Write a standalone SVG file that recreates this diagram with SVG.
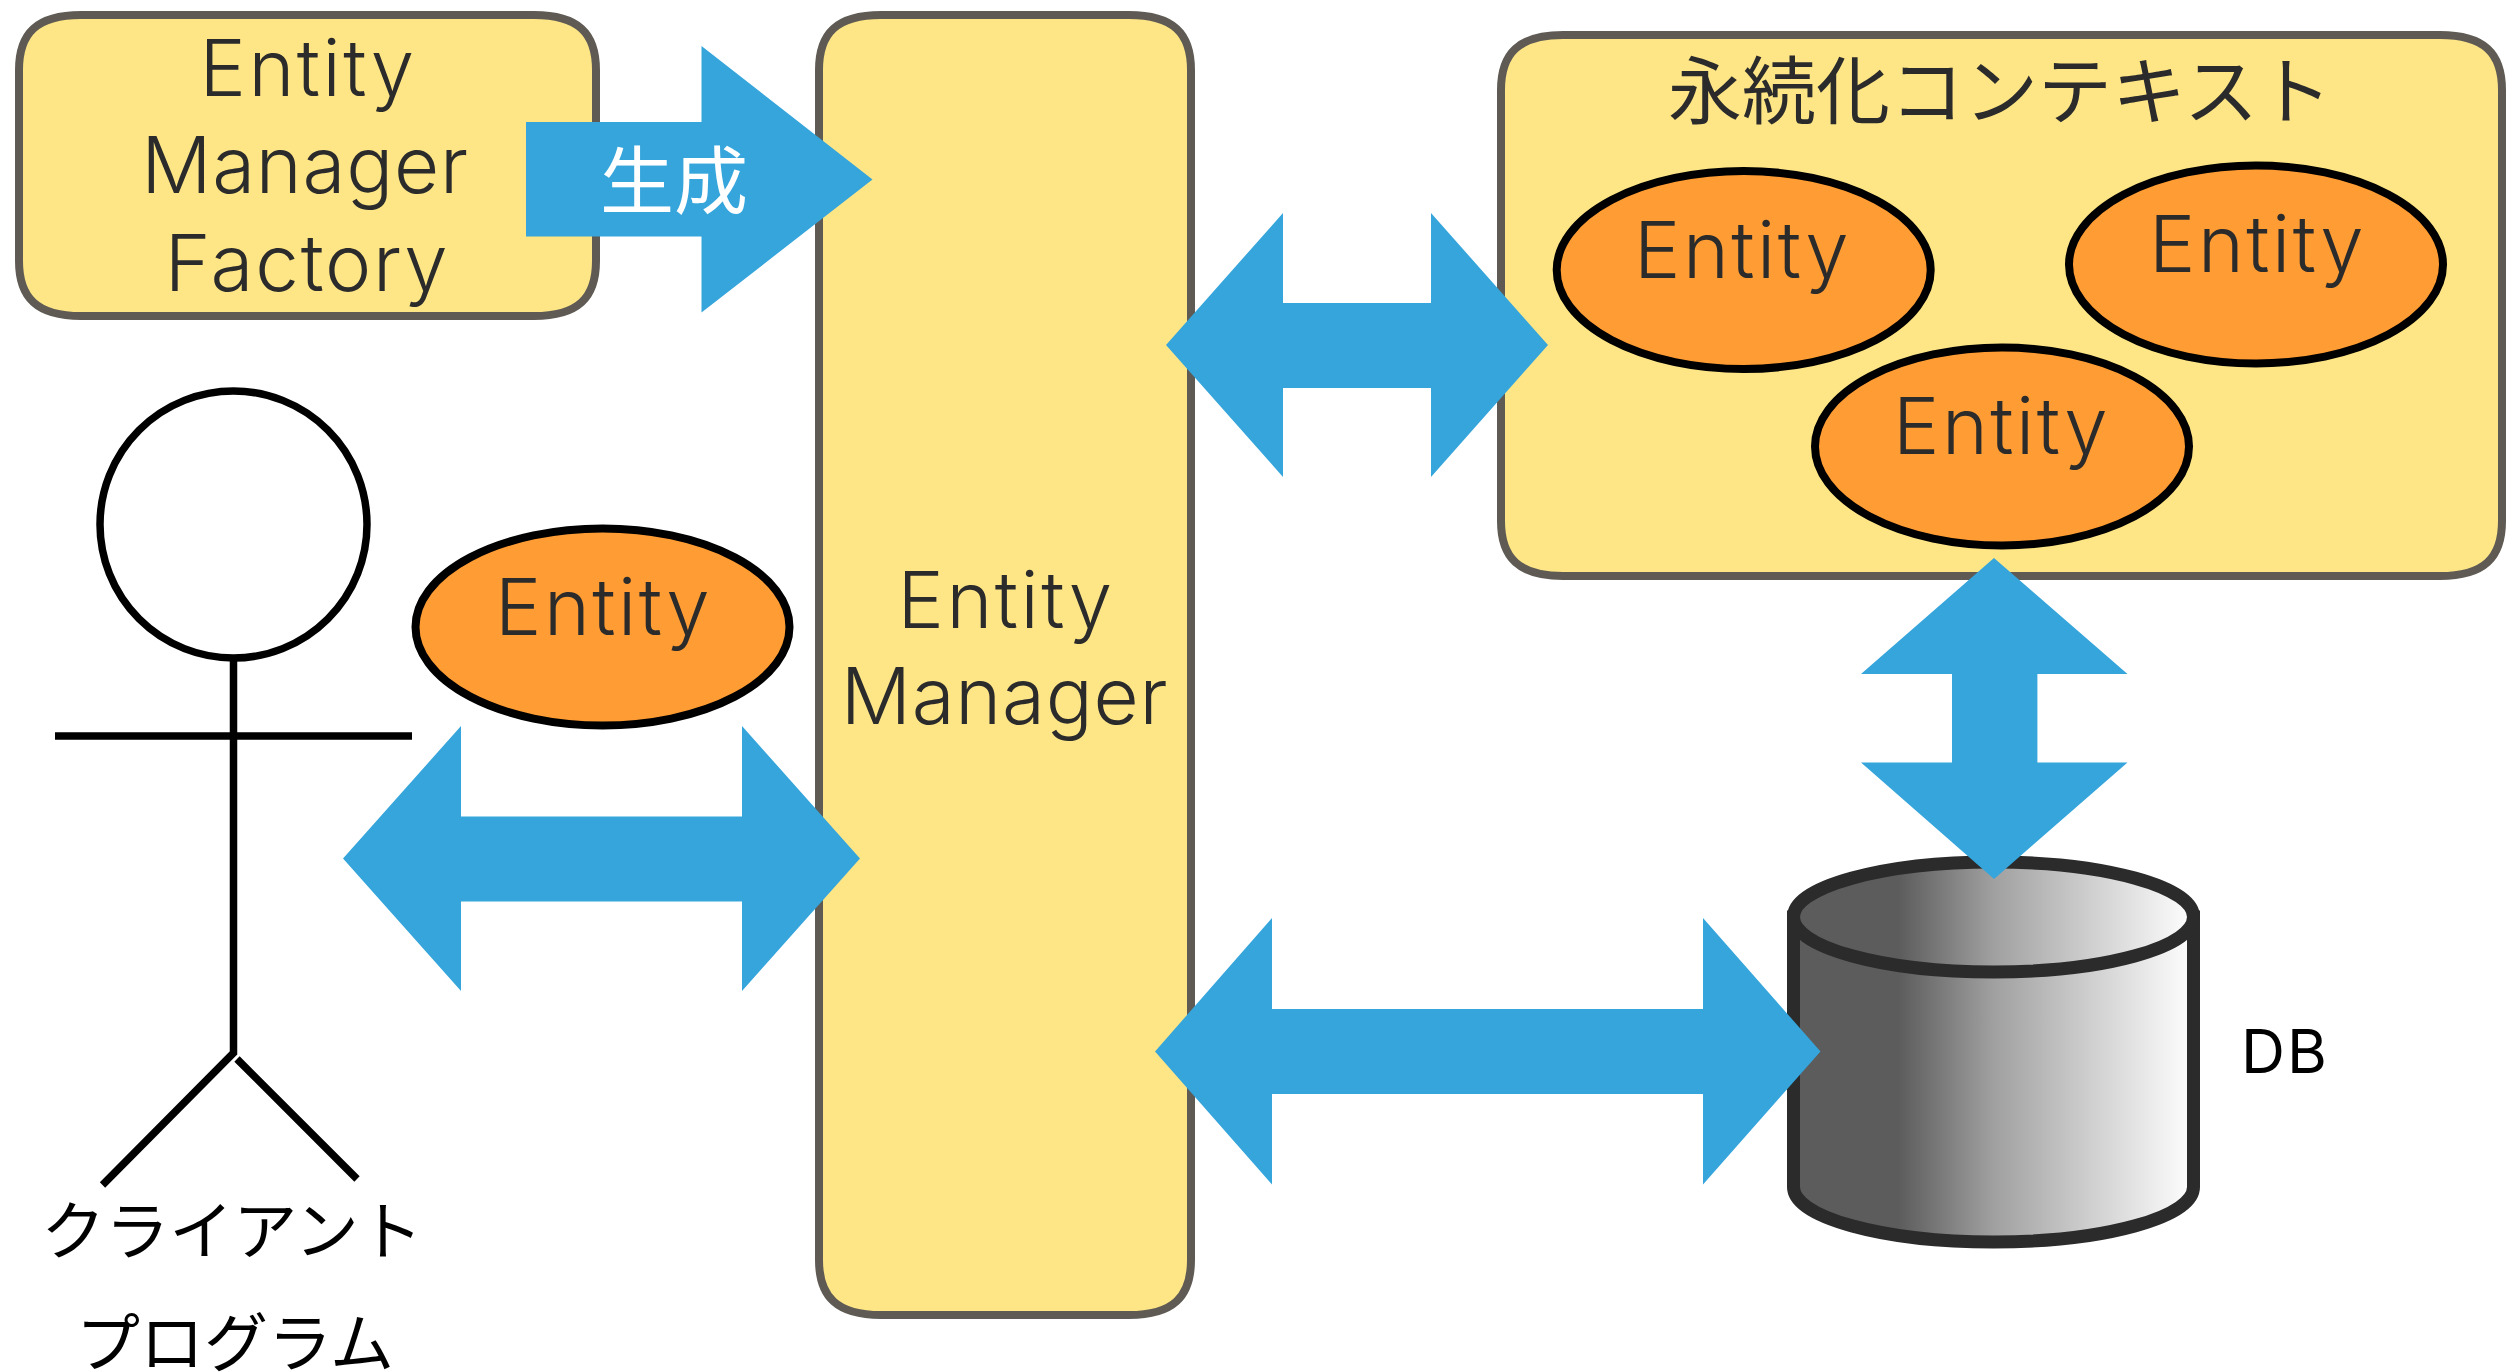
<svg xmlns="http://www.w3.org/2000/svg" width="2512" height="1372" viewBox="0 0 2512 1372">
<defs>
<linearGradient id="dbg" gradientUnits="userSpaceOnUse" x1="1787" y1="0" x2="2200" y2="0">
<stop offset="0" stop-color="#5c5c5c"/><stop offset=".27" stop-color="#5c5c5c"/><stop offset=".5" stop-color="#a0a0a0"/><stop offset=".75" stop-color="#d2d2d2"/><stop offset=".97" stop-color="#fcfcfc"/>
</linearGradient>
</defs>
<style>
.box{fill:#fee687;stroke:#5f5b54;stroke-width:8}
.ent{fill:#ff9c33;stroke:#000;stroke-width:8}
.t{font-family:Inter,"Noto Sans",sans-serif;font-weight:300;font-size:78px;fill:#2b2b2b;text-anchor:middle}
.e{letter-spacing:2.500px}
.m{letter-spacing:.8px}
.f{letter-spacing:1.800px}
.j{font-family:"Noto Sans CJK JP","Noto Sans",sans-serif;font-size:74px;fill:#2b2b2b;text-anchor:middle}
.k{font-family:"Noto Sans CJK JP","Noto Sans",sans-serif;font-size:64px;fill:#000;text-anchor:middle}
.arrow{fill:#35a5dc;stroke:none}
.line{fill:none;stroke:#000;stroke-width:7.500}
.db{fill:url(#dbg);stroke:#2b2b2b;stroke-width:13}
</style>
<rect width="2512" height="1372" fill="#fff"/>
<g id="factory">
<path class="box" d="M81 15H534C578 15 596 33 596 70V261C596 298 578 316 534 316H81C37 316 19 298 19 261V70C19 33 37 15 81 15Z"/>
<text class="t e" x="308" y="96">Entity</text>
<text class="t m" x="305" y="193">Manager</text>
<text class="t f" x="307" y="291">Factory</text>
</g>
<g id="manager">
<path class="box" d="M881 15H1129C1173 15 1191 33 1191 70V1260C1191 1297 1173 1315 1129 1315H881C837 1315 819 1297 819 1260V70C819 33 837 15 881 15Z"/>
<text class="t e" x="1006" y="628">Entity</text>
<text class="t m" x="1004.500" y="724">Manager</text>
</g>
<g id="context">
<path class="box" d="M1563 35H2440C2484 35 2502 53 2502 90V521C2502 558 2484 576 2440 576H1563C1519 576 1501 558 1501 521V90C1501 53 1519 35 1563 35Z"/>
<text class="j" x="2000" y="118">永続化コンテキスト</text>
</g>
<g id="entity-1"><ellipse class="ent" cx="1743.700" cy="270" rx="187" ry="99"/><text class="t e" x="1742.500" y="278">Entity</text></g>
<g id="entity-2"><ellipse class="ent" cx="2256" cy="264.500" rx="187" ry="99"/><text class="t e" x="2257.500" y="272">Entity</text></g>
<g id="entity-3"><ellipse class="ent" cx="2002" cy="446.500" rx="187" ry="99"/><text class="t e" x="2001.500" y="454">Entity</text></g>
<g id="client">
<circle cx="233.500" cy="524.500" r="133.500" fill="#fff" stroke="#000" stroke-width="7.500"/>
<path class="line" d="M233.500 660V1053L102.500 1185M237 1059L357 1179M55 736H412"/>
<text class="k" x="232" y="1254">クライアント</text>
<text class="k" x="235" y="1366">プログラム</text>
</g>
<g id="client-entity"><ellipse class="ent" cx="602.500" cy="627" rx="187" ry="98.500"/><text class="t e" x="603.500" y="635">Entity</text></g>
<g id="db">
<path class="db" d="M1793.500 917V1187A200 55 0 0 0 2193.500 1187V917Z"/>
<ellipse class="db" cx="1993.500" cy="917" rx="200" ry="55"/>
<text x="2285" y="1073" font-family="Inter,Noto Sans,sans-serif" font-size="61" letter-spacing="2" text-anchor="middle" fill="#000">DB</text>
</g>
<g id="connectors">
<path class="arrow" d="M526 122H701.500V46L872.500 179.500L701.500 312.500V236.600H526Z"/>
<text x="674" y="208" font-family="Noto Sans CJK JP,Noto Sans,sans-serif" font-size="74" text-anchor="middle" fill="#fff">生成</text>
<path class="arrow" d="M1166 345L1283 213V303H1431V213L1548 345L1431 477V388H1283V477Z"/>
<path class="arrow" d="M343 858.500L461 726V816.500H742V726L860 858.500L742 991V901.500H461V991Z"/>
<path class="arrow" d="M1155 1051.500L1272 918V1009H1703V918L1820.500 1051.500L1703 1184.500V1094H1272V1184.500Z"/>
<path class="arrow" d="M1994 558L2127.500 674H2037.400V762.500H2127.500L1994 879L1861 762.500H1952V674H1861Z"/>
</g>
</svg>
